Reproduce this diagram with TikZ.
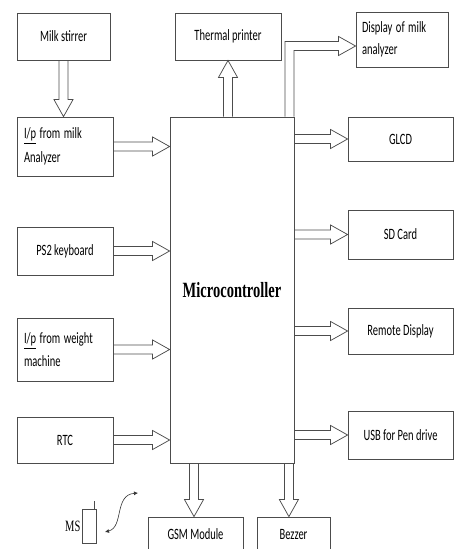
\documentclass[tikz,border=0pt]{standalone}
\usepackage{fontspec}
\usepackage{graphicx}
\setmainfont{Carlito}
\newfontfamily\mcufont{Liberation Serif}
\usetikzlibrary{arrows.meta,calc,positioning}

% text in the reference is drawn tall and narrow
\newcommand{\stretched}[1]{\scalebox{1}[1.5]{#1}}

% hollow block arrow from #1 to the tip #2
\newcommand{\fatarrow}[2]{%
  \path (#1) coordinate (fa-s) (#2) coordinate (fa-t);
  \path ($(fa-t)!17pt!(fa-s)$) coordinate (fa-b);
  \draw[fat] ($(fa-s)!4.5pt!90:(fa-t)$) -- ($(fa-b)!4.5pt!90:(fa-t)$)
    -- ($(fa-b)!9.5pt!90:(fa-t)$) -- (fa-t) -- ($(fa-b)!9.5pt!-90:(fa-t)$)
    -- ($(fa-b)!4.5pt!-90:(fa-t)$) -- ($(fa-s)!4.5pt!-90:(fa-t)$);
}

\begin{document}
\begin{tikzpicture}[x=1pt, y=-1pt,
    blk/.style={draw=black!70, line width=0.8pt, align=center, font=\fontsize{10.5}{12}\selectfont},
    lblk/.style={blk, minimum width=96pt},
    rblk/.style={blk, minimum width=105pt},
    twoline/.style={text width=82pt, align=left},
    fat/.style={draw=black!70, line width=0.75pt, line join=miter},
    wave/.style={black!80, line width=0.6pt, {Latex[length=4pt,width=4pt]}-{Latex[length=4pt,width=4pt]}}
]
\useasboundingbox (0,0) rectangle (461,549);

% left column
\node[lblk, minimum width=93pt, minimum height=47pt] (stirrer) at (63.5,36.5) {\stretched{Milk stirrer}};
\node[lblk, twoline, minimum height=59pt] (analyzer) at (65,146.5) {\stretched{\underline{I/p} from milk}\\[7pt]\stretched{Analyzer}};
\node[lblk, minimum height=48pt] (ps2) at (65,251) {\stretched{PS2 keyboard}};
\node[lblk, twoline, minimum height=63pt] (weight) at (65,349.5) {\stretched{\underline{I/p} from weight}\\[5pt]\stretched{machine}};
\node[lblk, minimum height=46pt] (rtc) at (65,440) {\stretched{RTC}};

% middle
\node[blk, minimum width=124pt, minimum height=346pt, font=\mcufont\bfseries\fontsize{14.5}{16}\selectfont] (mcu) at (232,290) {\stretched{Microcontroller}};
\node[blk, minimum width=106pt, minimum height=47pt] (printer) at (228,36.5) {\stretched{Thermal printer}};
\node[blk, minimum width=95pt, minimum height=34pt] (gsm) at (195.5,534) {\stretched{GSM Module}};
\node[blk, minimum width=73pt, minimum height=34pt] (bezzer) at (293.5,534) {\stretched{Bezzer}};

% right column
\node[blk, twoline, text width=80pt, minimum width=92pt, minimum height=55pt] (display) at (402,39.5) {\stretched{Display of milk}\\[8pt]\stretched{analyzer}};
\node[rblk, minimum height=44pt] (glcd) at (400.5,139) {\stretched{GLCD}};
\node[rblk, minimum height=49pt] (sd) at (400.5,234.5) {\stretched{SD Card}};
\node[rblk, minimum height=46pt] (remote) at (400.5,331) {\stretched{Remote Display}};
\node[rblk, minimum height=48pt] (usb) at (400.5,435) {\stretched{USB for Pen drive}};

% MS sensor
\node[draw=black!70, line width=0.8pt, minimum width=14pt, minimum height=34pt, inner sep=0pt] (ms) at (89,526) {};
\node[left=1pt of ms, inner sep=0pt, font=\mcufont\fontsize{10.5}{12}\selectfont] (mslbl) {\stretched{MS}};
\draw[black!70, line width=0.8pt] ($(ms.north east)+(-2,0)$) -- ++(0,-8);
\coordinate (wlo) at (105,532);
\coordinate (whi) at (138,493);
\draw[wave] (wlo) .. controls (124,527) and (114,495) .. (whi);

% inputs
\fatarrow{stirrer.south |- stirrer.south}{stirrer.south |- analyzer.north}
\fatarrow{analyzer.east}{analyzer.east -| mcu.west}
\fatarrow{ps2.east}{ps2.east -| mcu.west}
\fatarrow{weight.east}{weight.east -| mcu.west}
\fatarrow{rtc.east}{rtc.east -| mcu.west}

% outputs
\fatarrow{printer.south |- mcu.north}{printer.south}
\fatarrow{mcu.east |- glcd.west}{glcd.west}
\fatarrow{mcu.east |- sd.west}{sd.west}
\fatarrow{mcu.east |- remote.west}{remote.west}
\fatarrow{mcu.east |- usb.west}{usb.west}
\coordinate (gs) at ($(mcu.south)+(-38,0)$);
\fatarrow{gs}{gs |- gsm.north}
\coordinate (bz) at ($(mcu.south east)+(-5.5,0)$);
\fatarrow{bz}{bz |- bezzer.north}

% bent arrow to the analyzer display
\draw[fat] let \p1=($(mcu.north east)+(-5,0)$), \p2=($(display.west)+(0,6.5)$) in
  (\x1-4.5pt,\y1) -- (\x1-4.5pt,\y2+4.5pt) -- (\x2-17pt,\y2+4.5pt) -- (\x2-17pt,\y2+9.5pt)
  -- (\x2,\y2) -- (\x2-17pt,\y2-9.5pt) -- (\x2-17pt,\y2-4.5pt) -- (\x1+4.5pt,\y2-4.5pt)
  -- (\x1+4.5pt,\y1);
\end{tikzpicture}
\end{document}
